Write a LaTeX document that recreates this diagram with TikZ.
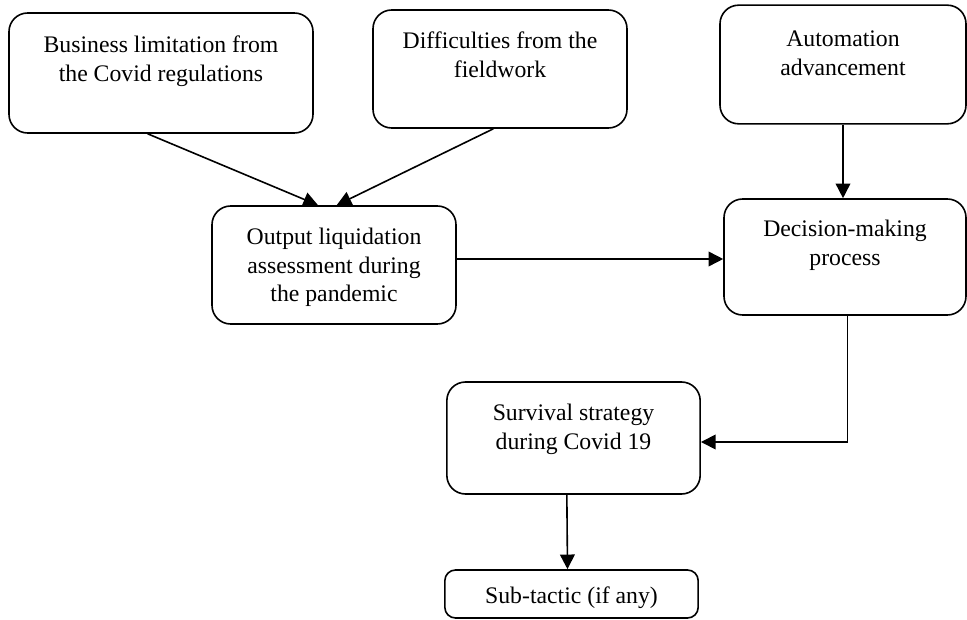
\documentclass[tikz,border=0pt]{standalone}
\usepackage{fontspec}
\setmainfont{Liberation Serif}
\usetikzlibrary{arrows.meta}

% box text: width, height, first baseline, lines
\newcommand{\boxtext}[4]{\parbox[c][#2][t]{#1}{\centering\rule{0pt}{#3}#4}}

\begin{document}
\begin{tikzpicture}[
    x=0.75pt, y=-0.75pt,
    font=\fontsize{17.8}{21.5}\selectfont,
    blk/.style={rectangle, draw, line width=1.2pt, rounded corners=14pt, inner sep=0pt},
    blksmall/.style={rectangle, draw, line width=1.2pt, rounded corners=8pt, inner sep=0pt},
    flow/.style={draw, line width=1.2pt, -{Triangle[length=11pt,width=11pt]}},
]
\useasboundingbox (0,0) rectangle (967,620);

% =========================================================
% Top row: influencing factors
% =========================================================
\node[blk] (bizlim)  at (161, 73)   {\boxtext{228pt}{90pt}{30pt}{Business limitation from\\the Covid regulations}};
\node[blk] (fieldwk) at (500, 69)   {\boxtext{190.5pt}{88.5pt}{29pt}{Difficulties from the\\fieldwork}};
\node[blk] (automat) at (843, 64.5) {\boxtext{184.5pt}{89pt}{31pt}{Automation\\advancement}};

% =========================================================
% Middle row: assessment and decision
% =========================================================
\node[blk] (output)   at (334, 265) {\boxtext{183pt}{88.5pt}{29pt}{Output liquidation\\assessment during\\the pandemic}};
\node[blk] (decision) at (845, 257) {\boxtext{181.5pt}{87pt}{28.5pt}{Decision-making\\process}};

% =========================================================
% Bottom: strategy
% =========================================================
\node[blk]      (survival) at (573.5, 438) {\boxtext{190pt}{84pt}{29pt}{Survival strategy\\during Covid 19}};
\node[blksmall] (subtac)   at (571.5, 594) {\boxtext{190pt}{36pt}{25pt}{Sub-tactic (if any)}};

% edges
\draw[flow] ([xshift=-10pt]bizlim.south) -- ([xshift=-12pt]output.north);
\draw[flow] ([xshift=-5pt]fieldwk.south) -- ([xshift=2pt]output.north);

\draw[flow] (automat.south) -- (automat.south |- decision.north);
\coordinate (outexit) at ([yshift=4.5pt]output.east);
\draw[flow] (outexit) -- (decision.west |- outexit);

\draw[flow] ([xshift=2pt]decision.south) |- ([yshift=-3pt]survival.east);
\draw[flow] ([xshift=-5pt]survival.south) -- ([xshift=-3pt]subtac.north);

\end{tikzpicture}
\end{document}
